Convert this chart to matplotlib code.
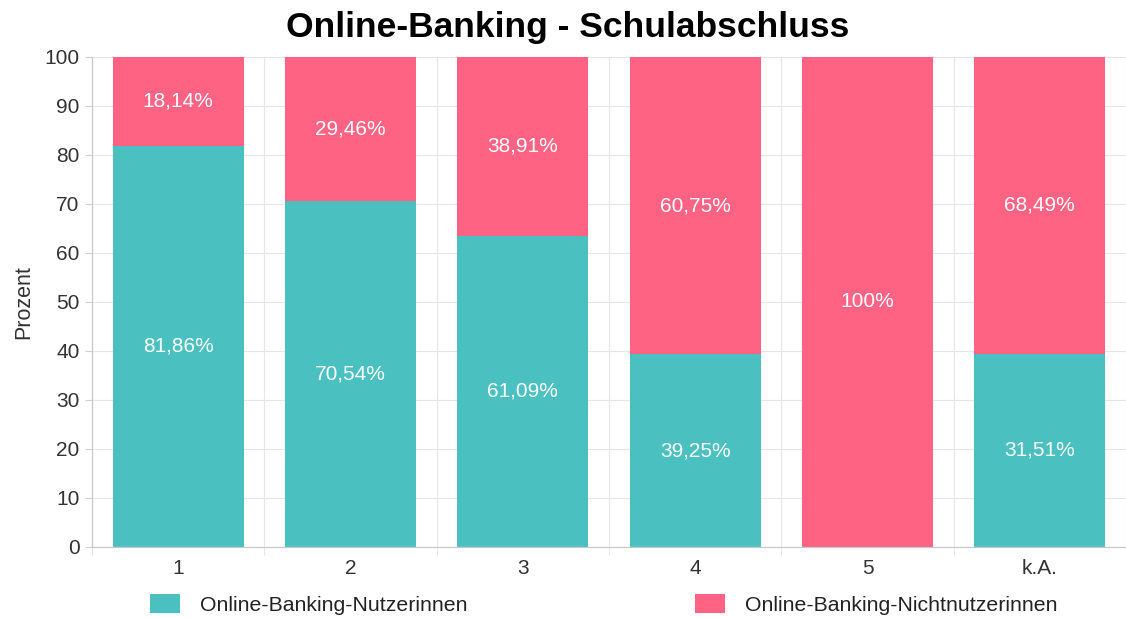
import numpy as np
import matplotlib
matplotlib.use("Agg")
import matplotlib.pyplot as plt

# Data
categories = ["1", "2", "3", "4", "5", "k.A."]
nutzer = [81.86, 70.54, 63.5, 39.25, 0, 39.4]          # bar heights as drawn
nicht = [100 - v for v in nutzer]
nutzer_labels = ["81,86%", "70,54%", "61,09%", "39,25%", "", "31,51%"]
nicht_labels = ["18,14%", "29,46%", "38,91%", "60,75%", "100%", "68,49%"]

teal = "#4BC0C0"
pink = "#FF6384"
plt.rcParams['font.family'] = ['Liberation Sans', 'DejaVu Sans']

fig = plt.figure(figsize=(11.26, 6.19), dpi=100)
ax = fig.add_axes([0.0817, 0.1168, 0.9183, 0.7916])

x = np.arange(len(categories))
b1 = ax.bar(x, nutzer, width=0.76, color=teal, label="Online-Banking-Nutzerinnen", zorder=2)
b2 = ax.bar(x, nicht, width=0.76, bottom=nutzer, color=pink, label="Online-Banking-Nichtnutzerinnen", zorder=2)

# value labels in the middle of each segment
for i in range(len(categories)):
    if nutzer_labels[i]:
        ax.text(x[i], nutzer[i] / 2, nutzer_labels[i], ha="center", va="center",
                color="white", fontsize=15, zorder=3)
    ax.text(x[i], nutzer[i] + nicht[i] / 2, nicht_labels[i], ha="center", va="center",
            color="white", fontsize=15, zorder=3)

ax.set_xlim(-0.5, len(categories) - 0.5)
ax.set_ylim(0, 100)
ax.set_yticks(np.arange(0, 101, 10))
ax.set_xticks(x)
ax.set_xticklabels(categories)
ax.set_xticks(np.arange(-0.5, len(categories), 1), minor=True)

ax.grid(True, which="major", axis="y", color="#e6e6e6", linewidth=0.8, zorder=0)
ax.grid(True, which="minor", axis="x", color="#e6e6e6", linewidth=0.8, zorder=0)
ax.tick_params(axis="x", which="major", length=0, pad=9, labelsize=15, labelcolor="#333333")
ax.tick_params(axis="x", which="minor", length=6, color="#e0e0e0")
ax.tick_params(axis="y", length=5, color="#d0d0d0", pad=4, labelsize=15, labelcolor="#333333")

for s in ["top", "right"]:
    ax.spines[s].set_visible(False)
for s in ["left", "bottom"]:
    ax.spines[s].set_color("#c8c8c8")
    ax.spines[s].set_linewidth(0.9)

ax.set_ylabel("Prozent", fontsize=15.5, color="#333333", labelpad=7)

fig.suptitle("Online-Banking - Schulabschluss", x=0.504, y=0.955, va="center",
             fontsize=25.5, fontweight="bold", color="black")

fig.legend(handles=[b1, b2], loc="center", bbox_to_anchor=(0.5364, 0.024), ncol=2,
           frameon=False, fontsize=15.3, handlelength=1.41, handleheight=1.05,
           handletextpad=0.94, columnspacing=10.7, labelcolor="#222222")

fig.savefig("out.png", dpi=100)
